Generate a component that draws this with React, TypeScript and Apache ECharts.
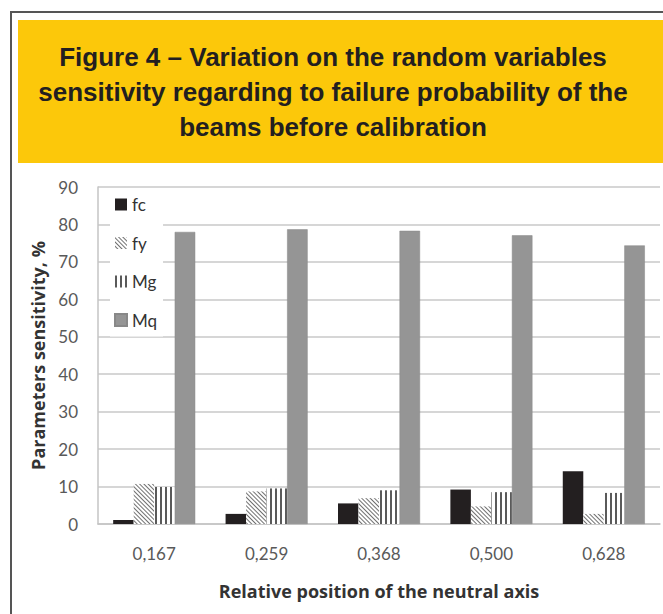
import React, { useEffect, useRef } from "react";
import * as echarts from "echarts";

const categories = ["0,167", "0,259", "0,368", "0,500", "0,628"];
const fcValues = [1.1, 2.7, 5.5, 9.2, 14.1];
const fyValues = [10.7, 8.7, 6.9, 4.7, 2.7];
const mgValues = [9.9, 9.5, 9.0, 8.5, 8.3];
const mqValues = [78.0, 78.7, 78.3, 77.1, 74.4];
const seriesNames = ["fc", "fy", "Mg", "Mq"];

const titleLines = [
  "Figure 4 – Variation on the random variables",
  "sensitivity regarding to failure probability of the",
  "beams before calibration",
];

const labelFont = "Lato, 'Open Sans', sans-serif";
const nameFont = "'Open Sans', Lato, sans-serif";

export default function App() {
  const ref = useRef<HTMLDivElement>(null);
  useEffect(() => {
    if (!ref.current) return;
    const chart = echarts.init(ref.current, undefined, { renderer: "svg" });
    const titleGraphics = titleLines.map((t, i) => ({
      type: "text",
      x: 333,
      y: 57 + i * 35,
      style: {
        text: t,
        fill: "#231f20",
        font: "bold 26px 'Liberation Sans', Arial, sans-serif",
        textAlign: "center",
        textVerticalAlign: "middle",
      },
      z: 10,
    }));
    const option: any = {
      animation: false,
      backgroundColor: "#ffffff",
      graphic: [
        {
          type: "rect",
          shape: { x: 18, y: 20, width: 650, height: 143 },
          style: { fill: "#FCC80A" },
          z: -10,
        },
        {
          type: "line",
          shape: { x1: 11, y1: 12, x2: 670, y2: 12 },
          style: { stroke: "#555555", lineWidth: 2 },
        },
        {
          type: "line",
          shape: { x1: 11, y1: 11, x2: 11, y2: 620 },
          style: { stroke: "#555555", lineWidth: 2 },
        },
        ...titleGraphics,
      ],
      grid: { left: 98, right: 3, top: 187, bottom: 90, containLabel: false },
      legend: {
        data: seriesNames,
        orient: "vertical",
        left: 110,
        top: 190,
        padding: [6, 6, 8, 4],
        backgroundColor: "#ffffff",
        itemWidth: 12,
        itemHeight: 12,
        itemGap: 21.5,
        icon: "rect",
        textStyle: {
          fontFamily: labelFont,
          fontSize: 17,
          lineHeight: 17,
          color: "#333333",
        },
      },
      xAxis: {
        type: "category",
        data: categories,
        name: "Relative position of the neutral axis",
        nameLocation: "middle",
        nameGap: 58,
        nameTextStyle: {
          fontFamily: nameFont,
          fontWeight: "bold",
          fontSize: 18,
          color: "#333333",
        },
        axisLine: { show: true, lineStyle: { color: "#c4c4c4", width: 1.5 } },
        axisTick: { show: false },
        axisLabel: {
          fontFamily: labelFont,
          fontSize: 17,
          color: "#595959",
          margin: 21,
        },
      },
      yAxis: {
        type: "value",
        min: 0,
        max: 90,
        interval: 10,
        name: "Parameters sensitivity, %",
        nameLocation: "middle",
        nameGap: 47,
        nameTextStyle: {
          fontFamily: nameFont,
          fontWeight: "bold",
          fontSize: 18,
          color: "#333333",
        },
        axisLine: { show: true, lineStyle: { color: "#c4c4c4", width: 1.5 } },
        axisTick: { show: false },
        axisLabel: {
          fontFamily: labelFont,
          fontSize: 17,
          color: "#595959",
          margin: 20,
        },
        splitLine: { show: true, lineStyle: { color: "#c8c8c8", width: 1.5 } },
      },
      series: [
        {
          name: "fc",
          type: "bar",
          data: fcValues,
          barGap: "0%",
          barCategoryGap: "27%",
          itemStyle: { color: "#231f20" },
        },
        {
          name: "fy",
          type: "bar",
          data: fyValues,
          itemStyle: {
            color: "#ffffff",
            decal: {
              symbol: "rect",
              symbolSize: 1,
              color: "#707070",
              dashArrayX: [1, 0],
              dashArrayY: [1, 1.8],
              rotation: Math.PI / 4,
            },
          },
        },
        {
          name: "Mg",
          type: "bar",
          data: mgValues,
          itemStyle: {
            color: "#ffffff",
            decal: {
              symbol: "rect",
              symbolSize: 1,
              color: "#5a5a5a",
              dashArrayX: [1.2, 2.8],
              dashArrayY: [1, 0],
              rotation: 0,
            },
          },
        },
        {
          name: "Mq",
          type: "bar",
          data: mqValues,
          itemStyle: { color: "#959595", borderColor: "#888888", borderWidth: 0.5 },
        },
      ],
    };
    chart.setOption(option);
    return () => chart.dispose();
  }, []);
  return (
    <div
      ref={ref}
      style={{ position: "fixed", left: 0, top: 0, width: 663, height: 614 }}
    />
  );
}
